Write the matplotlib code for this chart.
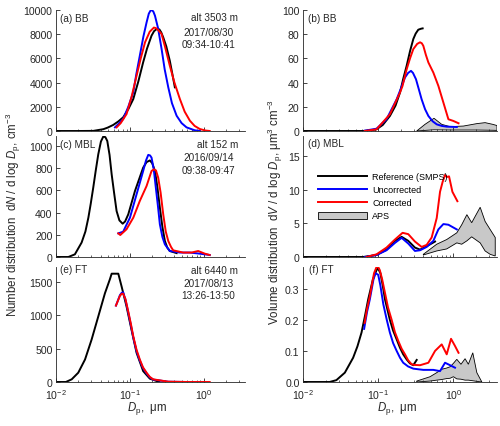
import numpy as np
import matplotlib
matplotlib.use('Agg')
import matplotlib.pyplot as plt
from matplotlib.ticker import LogLocator, NullFormatter, LogFormatterMathtext

plt.rcParams['font.family'] = ['Liberation Sans', 'DejaVu Sans']
plt.rcParams['mathtext.fontset'] = 'custom'
plt.rcParams['mathtext.rm'] = 'Liberation Sans'
plt.rcParams['mathtext.it'] = 'Liberation Sans:italic'
plt.rcParams['mathtext.bf'] = 'Liberation Sans:bold'

FS_TICK = 7.6
FS_TXT = 7.2
FS_LEG = 6.5
FS_LAB = 8.3
TXT = '#262626'

# ---- (a) BB number distribution
a_ref_dp = [0.0102, 0.02, 0.032, 0.0437, 0.05, 0.0594, 0.07, 0.081, 0.095, 0.111, 0.13, 0.151, 0.17,
            0.196, 0.212, 0.229, 0.25, 0.265, 0.282, 0.31, 0.346, 0.375, 0.405]
a_ref_n = [0, 0, 10, 150, 280, 500, 800, 1130, 1800, 2640, 4100, 5680, 6800,
           7880, 8250, 8420, 8400, 8150, 7740, 7000, 5810, 4700, 3610]
a_unc_dp = [0.0627, 0.07, 0.081, 0.095, 0.111, 0.122, 0.136, 0.152, 0.168, 0.18, 0.19, 0.2, 0.208,
            0.218, 0.24, 0.268, 0.295, 0.33, 0.37, 0.428, 0.5, 0.583, 0.75, 0.88]
a_unc_n = [300, 580, 990, 2000, 3200, 4700, 6220, 7800, 8980, 9700, 9950, 9980, 9850,
           9530, 8500, 6780, 5100, 3610, 2300, 1260, 650, 300, 60, 0]
a_cor_dp = [0.066, 0.075, 0.09, 0.105, 0.123, 0.14, 0.16, 0.185, 0.211, 0.225, 0.24, 0.268, 0.3,
            0.346, 0.4, 0.474, 0.55, 0.647, 0.75, 0.88, 1.05, 1.2]
a_cor_n = [300, 650, 1400, 2800, 4570, 6000, 7330, 8200, 8550, 8500, 8350, 8020, 6900,
           5400, 4000, 2640, 1600, 850, 420, 165, 40, 0]

# ---- (c) MBL number distribution
c_ref_dp = [0.0102, 0.0147, 0.018, 0.0222, 0.025, 0.0274, 0.0295, 0.0319, 0.0345, 0.0373, 0.0405,
            0.0436, 0.0465, 0.0494, 0.053, 0.0566, 0.061, 0.066, 0.072, 0.0797, 0.086, 0.0949,
            0.117, 0.151, 0.168, 0.186, 0.2, 0.218, 0.235, 0.254, 0.275, 0.297, 0.32, 0.346, 0.428]
c_ref_n = [0, 0, 24, 130, 230, 354, 480, 625, 780, 925, 1040,
           1085, 1080, 1045, 920, 745, 580, 414, 330, 300, 320, 384,
           595, 805, 855, 870, 845, 775, 630, 444, 270, 144, 85, 54, 35]
c_unc_dp = [0.0696, 0.081, 0.1, 0.123, 0.151, 0.165, 0.177, 0.187, 0.196, 0.21, 0.224, 0.24,
            0.254, 0.275, 0.297, 0.346, 0.474, 0.647, 0.88, 1.2]
c_unc_n = [213, 228, 354, 565, 775, 870, 920, 915, 895, 790, 625, 450,
           294, 180, 114, 54, 40, 40, 30, 18]
c_cor_dp = [0.0696, 0.074, 0.09, 0.111, 0.136, 0.168, 0.196, 0.211, 0.225, 0.241, 0.26, 0.282,
            0.305, 0.33, 0.36, 0.385, 0.525, 0.681, 0.838, 1.03, 1.2]
c_cor_n = [213, 198, 250, 354, 505, 640, 775, 790, 780, 715, 580, 384,
           230, 144, 90, 60, 40, 40, 54, 30, 18]

# ---- (e) FT number distribution
e_ref_dp = [0.0102, 0.0136, 0.0163, 0.02, 0.0247, 0.0303, 0.0373, 0.0459, 0.0537, 0.0566, 0.0696,
            0.0773, 0.09, 0.105, 0.123, 0.151, 0.186, 0.229, 0.25]
e_ref_n = [0, 0, 40, 139, 337, 634, 980, 1327, 1540, 1620, 1620,
           1425, 1129, 782, 436, 163, 50, 15, 8]
e_unc_dp = [0.0647, 0.0733, 0.0775, 0.081, 0.087, 0.0949, 0.103, 0.111, 0.123, 0.136, 0.15,
            0.168, 0.185, 0.206, 0.33, 0.6, 1.0]
e_unc_n = [1143, 1300, 1335, 1340, 1230, 1040, 850, 665, 460, 320, 210, 128, 70, 36, 4, 0, 0]
e_cor_dp = [0.0647, 0.0733, 0.0775, 0.081, 0.087, 0.0949, 0.103, 0.111, 0.123, 0.136, 0.15,
            0.168, 0.185, 0.206, 0.33, 0.6, 1.2]
e_cor_n = [1143, 1290, 1320, 1320, 1240, 1054, 870, 683, 480, 337, 220, 139, 78, 40, 5, 0, 0]

# ---- (b) BB volume distribution
b_ref_dp = [0.0102, 0.063, 0.08, 0.095, 0.115, 0.143, 0.17, 0.195, 0.215, 0.239, 0.265, 0.293,
            0.315, 0.341, 0.37, 0.39]
b_ref_v = [0, 0, 0.5, 1.4, 5.0, 12.4, 21.0, 31.8, 43.0, 53.9, 66.0, 76.0, 80.5, 83.7, 84.5, 84.8]
b_unc_dp = [0.0664, 0.095, 0.129, 0.176, 0.2, 0.227, 0.25, 0.273, 0.29, 0.318, 0.345, 0.378,
            0.42, 0.465, 0.53, 0.6, 0.7, 0.815, 1.11]
b_unc_v = [0.3, 1.9, 9.7, 26.2, 35.0, 44.2, 48.0, 49.7, 48.0, 42.8, 35.0, 26.2,
           18.0, 12.4, 8.0, 5.5, 4.2, 3.6, 3.3]
b_cor_dp = [0.0664, 0.095, 0.143, 0.195, 0.21, 0.239, 0.265, 0.293, 0.33, 0.36, 0.38, 0.398,
            0.43, 0.465, 0.541, 0.631, 0.736, 0.858, 1.0, 1.17]
b_cor_v = [0, 1.4, 13.8, 31.8, 37.0, 51.0, 60.0, 67.7, 72.0, 73.3, 72.5, 70.4,
           63.0, 56.6, 48.3, 37.3, 23.5, 9.7, 8.3, 6.4]
b_aps_dp = [0.325, 0.419, 0.552, 0.699, 0.903, 1.36, 2.05, 2.64, 3.34, 3.8]
b_aps_hi = [0, 5.5, 10.5, 5.5, 3.6, 4.1, 6.1, 6.9, 5.5, 4.5]
b_aps_lo = [0, 0.5, 1.0, 0.9, 0.8, 0.8, 0.8, 0.7, 0.6, 0.5]

# ---- (d) MBL volume distribution
d_ref_dp = [0.0102, 0.063, 0.095, 0.129, 0.167, 0.205, 0.251, 0.308, 0.36, 0.441, 0.57]
d_ref_v = [0, 0, 0.3, 1.1, 2.4, 3.0, 2.4, 1.4, 1.1, 1.6, 2.3]
d_unc_dp = [0.0664, 0.095, 0.129, 0.167, 0.205, 0.251, 0.308, 0.36, 0.441, 0.541, 0.631, 0.736,
            0.858, 1.11]
d_unc_v = [0, 0.3, 1.0, 2.1, 2.85, 2.0, 0.9, 1.0, 1.5, 2.4, 4.1, 4.9, 4.8, 4.1]
d_cor_dp = [0.0701, 0.095, 0.129, 0.167, 0.211, 0.251, 0.308, 0.378, 0.441, 0.514, 0.6, 0.664,
            0.72, 0.774, 0.82, 0.875, 0.97, 1.13]
d_cor_v = [0, 0.4, 1.4, 2.6, 3.6, 3.4, 2.3, 1.5, 1.8, 2.9, 5.8, 9.7,
           11.2, 12.2, 11.9, 12.0, 9.7, 8.3]
d_aps_dp = [0.398, 0.6, 0.815, 1.11, 1.29, 1.51, 1.75, 2.27, 2.64, 3.08, 3.6]
d_aps_hi = [0.4, 1.9, 2.6, 3.6, 4.8, 6.3, 5.1, 7.4, 5.3, 4.1, 2.9]
d_aps_lo = [0.3, 0.9, 1.2, 2.1, 1.9, 2.4, 3.0, 2.1, 0.9, 0.4, 0.15]

# ---- (f) FT volume distribution
f_ref_dp = [0.0102, 0.0226, 0.0278, 0.036, 0.0464, 0.053, 0.06, 0.067, 0.0736, 0.085, 0.095, 0.1,
            0.107, 0.115, 0.123, 0.132, 0.143, 0.158, 0.176, 0.195, 0.215, 0.24, 0.264, 0.293, 0.325]
f_ref_v = [0, 0, 0.006, 0.03, 0.078, 0.115, 0.159, 0.215, 0.266, 0.33, 0.36, 0.365,
           0.35, 0.31, 0.266, 0.235, 0.2, 0.165, 0.137, 0.11, 0.089, 0.072, 0.06, 0.054, 0.071]
f_unc_dp = [0.065, 0.071, 0.0774, 0.0865, 0.092, 0.1, 0.107, 0.117, 0.13, 0.143, 0.158, 0.176,
            0.195, 0.215, 0.25, 0.293, 0.398, 0.541, 0.664, 0.774, 0.903, 1.05]
f_unc_v = [0.171, 0.225, 0.266, 0.33, 0.35, 0.345, 0.31, 0.25, 0.2, 0.159, 0.125, 0.1,
           0.078, 0.062, 0.05, 0.043, 0.039, 0.039, 0.035, 0.062, 0.054, 0.046]
f_cor_dp = [0.066, 0.071, 0.0774, 0.088, 0.095, 0.1, 0.105, 0.113, 0.123, 0.135, 0.151, 0.167,
            0.185, 0.205, 0.227, 0.25, 0.278, 0.3, 0.36, 0.465, 0.57, 0.699, 0.815, 0.93, 1.05, 1.17]
f_cor_v = [0.19, 0.235, 0.276, 0.35, 0.37, 0.37, 0.36, 0.33, 0.287, 0.24, 0.2, 0.16,
           0.132, 0.107, 0.089, 0.07, 0.057, 0.055, 0.054, 0.062, 0.1, 0.121, 0.089, 0.139, 0.116, 0.094]
f_aps_dp = [0.325, 0.489, 0.6, 0.699, 0.815, 0.903, 1.0, 1.11, 1.26, 1.43, 1.58, 1.81, 2.05, 2.39]
f_aps_hi = [0.003, 0.017, 0.03, 0.041, 0.045, 0.049, 0.06, 0.073, 0.057, 0.075, 0.057, 0.094, 0.03, 0]
f_aps_lo = [0, 0.003, 0.006, 0.008, 0.011, 0.012, 0.017, 0.01, 0.009, 0.006, 0.006, 0.004, 0.002, 0]

panel_text = {
    'a': ('(a) BB', 'alt 3503 m', '2017/08/30', '09:34-10:41'),
    'c': ('(c) MBL', 'alt 152 m', '2016/09/14', '09:38-09:47'),
    'e': ('(e) FT', 'alt 6440 m', '2017/08/13', '13:26-13:50'),
    'b': ('(b) BB',), 'd': ('(d) MBL',), 'f': ('(f) FT',),
}

W, H = 500, 427
fig = plt.figure(figsize=(W / 100, H / 100), dpi=100)


def box(x0, y0, x1, y1):
    # pixel box (top-left origin) -> figure fraction rect
    return [x0 / W, 1 - y1 / H, (x1 - x0) / W, (y1 - y0) / H]


def ftext(x, y, s, fs=FS_TXT, **kw):
    fig.text(x / W, 1 - y / H, s, fontsize=fs, color=TXT, **kw)


def style(ax, xmax, ymax, yticks, show_x):
    ax.set_xscale('log')
    ax.set_xlim(0.01, xmax)
    ax.set_ylim(0, ymax)
    ax.set_yticks(yticks)
    ax.xaxis.set_major_locator(LogLocator(base=10, numticks=10))
    ax.xaxis.set_minor_locator(LogLocator(base=10, subs=np.arange(2, 10), numticks=20))
    ax.xaxis.set_minor_formatter(NullFormatter())
    if show_x:
        ax.xaxis.set_major_formatter(LogFormatterMathtext())
    else:
        ax.xaxis.set_major_formatter(NullFormatter())
    ax.tick_params(which='major', direction='in', length=3, width=0.6, labelsize=FS_TICK,
                   colors=TXT, pad=2.5)
    ax.tick_params(axis='x', which='major', pad=3.5)
    ax.tick_params(which='minor', direction='in', length=1.6, width=0.5, colors=TXT)
    for s in ['top', 'right']:
        ax.spines[s].set_visible(False)
    for s in ['left', 'bottom']:
        ax.spines[s].set_linewidth(0.6)
        ax.spines[s].set_color(TXT)
    ax.patch.set_alpha(0)


def aps(ax, dp, lo, hi, label=None):
    xs = list(dp) + list(dp)[::-1]
    ys = list(hi) + list(lo)[::-1]
    ax.fill(xs, ys, facecolor='#c8c8c8', edgecolor='black', linewidth=0.6, label=label)


rows = [(11, 132), (137, 258), (268, 383)]
LW = 1.4

ax_a = fig.add_axes(box(56, rows[0][0], 245, rows[0][1]))
ax_c = fig.add_axes(box(56, rows[1][0], 245, rows[1][1]))
ax_e = fig.add_axes(box(56, rows[2][0], 245, rows[2][1]))
ax_b = fig.add_axes(box(303, rows[0][0], 497, rows[0][1]))
ax_d = fig.add_axes(box(303, rows[1][0], 497, rows[1][1]))
ax_f = fig.add_axes(box(303, rows[2][0], 497, rows[2][1]))

# left column: number distributions
for ax, ref, unc, cor in [
        (ax_a, (a_ref_dp, a_ref_n), (a_unc_dp, a_unc_n), (a_cor_dp, a_cor_n)),
        (ax_c, (c_ref_dp, c_ref_n), (c_unc_dp, c_unc_n), (c_cor_dp, c_cor_n)),
        (ax_e, (e_ref_dp, e_ref_n), (e_unc_dp, e_unc_n), (e_cor_dp, e_cor_n))]:
    ax.plot(*ref, color='black', lw=LW)
    ax.plot(*unc, color='blue', lw=LW)
    ax.plot(*cor, color='red', lw=LW)

# right column: volume distributions
aps(ax_b, b_aps_dp, b_aps_lo, b_aps_hi)
aps(ax_d, d_aps_dp, d_aps_lo, d_aps_hi, label='APS')
aps(ax_f, f_aps_dp, f_aps_lo, f_aps_hi)
for ax, ref, unc, cor in [
        (ax_b, (b_ref_dp, b_ref_v), (b_unc_dp, b_unc_v), (b_cor_dp, b_cor_v)),
        (ax_d, (d_ref_dp, d_ref_v), (d_unc_dp, d_unc_v), (d_cor_dp, d_cor_v)),
        (ax_f, (f_ref_dp, f_ref_v), (f_unc_dp, f_unc_v), (f_cor_dp, f_cor_v))]:
    ax.plot(*ref, color='black', lw=LW, label='Reference (SMPS)')
    ax.plot(*unc, color='blue', lw=LW, label='Uncorrected')
    ax.plot(*cor, color='red', lw=LW, label='Corrected')

style(ax_a, 3.6, 10000, [0, 2000, 4000, 6000, 8000, 10000], False)
style(ax_c, 3.6, 1090, [0, 200, 400, 600, 800, 1000], False)
style(ax_e, 3.6, 1720, [0, 500, 1000, 1500], True)
style(ax_b, 3.8, 100, [0, 20, 40, 60, 80, 100], False)
style(ax_d, 3.8, 18, [0, 5, 10, 15], False)
style(ax_f, 3.8, 0.37, [0, 0.1, 0.2, 0.3], True)

h, l = ax_d.get_legend_handles_labels()
order = [l.index(k) for k in ['Reference (SMPS)', 'Uncorrected', 'Corrected', 'APS']]
ax_d.legend([h[i] for i in order], [l[i] for i in order], loc='upper left',
            bbox_to_anchor=(0.077, 0.70), frameon=False, fontsize=FS_LEG,
            handlelength=5.4, handleheight=0.9, handletextpad=0.6,
            labelspacing=0.45, borderaxespad=0, borderpad=0)

# panel labels and annotations
ftext(59.5, 19, panel_text['a'][0], va='center', ha='left')
ftext(59.5, 145, panel_text['c'][0], va='center', ha='left')
ftext(60, 270, panel_text['e'][0], va='center', ha='left')
ftext(308, 19, panel_text['b'][0], va='center', ha='left')
ftext(308, 144, panel_text['d'][0], va='center', ha='left')
ftext(309, 270, panel_text['f'][0], va='center', ha='left')

for key, ys in [('a', (18, 32.5, 45.5)), ('c', (144.5, 158, 170.5)), ('e', (270.5, 284, 296))]:
    ftext(238, ys[0], panel_text[key][1], ha='right', va='center')
    ftext(208.5, ys[1], panel_text[key][2], ha='center', va='center')
    ftext(208.5, ys[2], panel_text[key][3], ha='center', va='center')

ftext(13, 215, r'Number distribution  d$N$ / d log $D_{\rm p}$, cm$^{-3}$', fs=FS_LAB,
      rotation=90, ha='center', va='center')
ftext(275, 212, 'Volume distribution  d$V$ / d log $D_{\\rm p}$, \u03bcm$^{3}$ cm$^{-3}$',
      fs=FS_LAB, rotation=90, ha='center', va='center')
ftext(147, 409, '$D_{\\rm p}$,  \u03bcm', fs=FS_LAB, ha='center', va='center')
ftext(397, 409, '$D_{\\rm p}$,  \u03bcm', fs=FS_LAB, ha='center', va='center')

fig.savefig('out.png', dpi=100)
